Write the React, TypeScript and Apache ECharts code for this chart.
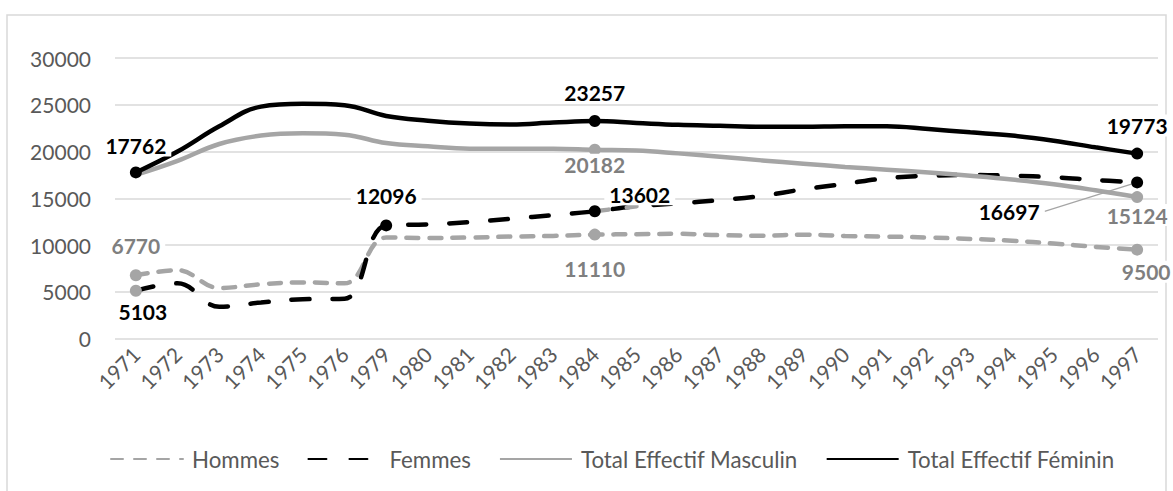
import React, { useEffect, useRef } from "react";
import * as echarts from "echarts";

const years = ["1971","1972","1973","1974","1975","1976","1979","1980","1981","1982","1983","1984","1985","1986","1987","1988","1989","1990","1991","1992","1993","1994","1995","1996","1997"];
const hommes = [6770, 7300, 5400, 5800, 6000, 5900, 10800, 10750, 10800, 10900, 10970, 11110, 11150, 11200, 11050, 11000, 11100, 10970, 10900, 10800, 10650, 10450, 10150, 9800, 9500];
const femmes = [5103, 5900, 3400, 3850, 4200, 4250, 12096, 12200, 12450, 12800, 13200, 13602, 14150, 14450, 14800, 15250, 15950, 16550, 17150, 17400, 17500, 17400, 17250, 16950, 16697];
const totalMasculin = [17500, 19000, 20800, 21700, 21950, 21800, 20900, 20550, 20300, 20300, 20300, 20182, 20100, 19800, 19450, 19050, 18700, 18350, 18050, 17750, 17400, 17000, 16500, 15850, 15124];
const totalFeminin = [17762, 20000, 22700, 24800, 25100, 24950, 23800, 23300, 23000, 22900, 23100, 23257, 23050, 22850, 22750, 22650, 22650, 22700, 22700, 22400, 22050, 21700, 21150, 20450, 19773];
const yTicks = { min: 0, max: 30000, interval: 5000 };
const seriesNames = ["Hommes", "Femmes", "Total Effectif Masculin", "Total Effectif Féminin"];

const GRAY = "#a5a5a5";
const GRAY_TEXT = "#7f7f7f";
const FONT = "Lato, 'Noto Sans', sans-serif";

type LblOpt = { pos: string; dist: number; dx?: number; dy?: number; line?: boolean; color: string; markerColor: string };

const labelsHommes: Record<number, LblOpt> = {
  0: { pos: "top", dist: 13, color: GRAY_TEXT, markerColor: GRAY },
  11: { pos: "bottom", dist: 17, color: GRAY_TEXT, markerColor: GRAY },
  24: { pos: "bottom", dist: 5, dx: 9, color: GRAY_TEXT, markerColor: GRAY },
};
const labelsFemmes: Record<number, LblOpt> = {
  0: { pos: "bottom", dist: 4, dx: 7, color: "#000", markerColor: GRAY },
  6: { pos: "top", dist: 13, color: "#000", markerColor: "#000" },
  11: { pos: "top", dist: 0, dx: 45, color: "#000", markerColor: "#000" },
  24: { pos: "top", dist: 0, dx: -128, dy: 46, line: true, color: "#000", markerColor: "#000" },
};
const labelsMasc: Record<number, LblOpt> = {
  11: { pos: "bottom", dist: -2, color: GRAY_TEXT, markerColor: GRAY },
  24: { pos: "bottom", dist: 1, color: GRAY_TEXT, markerColor: GRAY },
};
const labelsFem: Record<number, LblOpt> = {
  0: { pos: "top", dist: 10, color: "#000", markerColor: "#000" },
  11: { pos: "top", dist: 12, color: "#000", markerColor: "#000" },
  24: { pos: "top", dist: 11, color: "#000", markerColor: "#000" },
};

function buildData(values: number[], labels: Record<number, LblOpt>) {
  return values.map((v, i) => {
    const l = labels[i];
    if (!l) return { value: v, symbol: "none" };
    return {
      value: v,
      symbol: "circle",
      symbolSize: 12,
      itemStyle: { color: l.markerColor },
      label: {
        show: true,
        position: l.pos,
        distance: l.dist,
        color: l.color,
        fontWeight: "bold",
        fontSize: 21,
        fontFamily: FONT,
        lineHeight: 22,
        backgroundColor: "#ffffff",
        padding: [0, 5],
      },
      labelLine: l.line
        ? { show: true, lineStyle: { color: GRAY, width: 1.2 }, length2: 0 }
        : { show: false },
    };
  });
}

function layoutFor(labels: Record<number, LblOpt>) {
  return (p: any) => {
    const l = labels[p.dataIndex];
    if (l && (l.dx || l.dy)) return { dx: l.dx || 0, dy: l.dy || 0 };
    return {};
  };
}

export default function App() {
  const ref = useRef<HTMLDivElement>(null);
  useEffect(() => {
    if (!ref.current) return;
    const chart = echarts.init(ref.current, null, { renderer: "svg" });
    const segData = femmes.map((v, i) => (i === 11 || i === 12 ? v : null));
    chart.setOption({
      animation: false,
      backgroundColor: "#ffffff",
      textStyle: { fontFamily: FONT },
      graphic: [
        {
          type: "rect",
          silent: true,
          z: -1,
          shape: { x: 7, y: 15, width: 1159, height: 520 },
          style: { fill: "none", stroke: "#d9d9d9", lineWidth: 1.5 },
        },
      ],
      grid: { left: 115, right: 15, top: 58, height: 280.5, containLabel: false },
      legend: {
        data: seriesNames,
        left: 105,
        top: 443,
        itemWidth: 72,
        itemHeight: 14,
        itemGap: 28,
        itemStyle: { opacity: 0 },
        textStyle: { fontSize: 22.3, color: "#595959", fontFamily: FONT, padding: [0, 0, 0, 4] },
      },
      xAxis: {
        type: "category",
        data: years,
        boundaryGap: true,
        axisLine: { show: false },
        axisTick: { show: false },
        axisLabel: { rotate: 45, fontSize: 21, color: "#595959", margin: 12, interval: 0, fontFamily: FONT },
      },
      yAxis: {
        type: "value",
        min: yTicks.min,
        max: yTicks.max,
        interval: yTicks.interval,
        axisLine: { show: false },
        axisTick: { show: false },
        axisLabel: { fontSize: 21, color: "#595959", margin: 24, fontFamily: FONT, formatter: (v: number) => String(v) },
        splitLine: { lineStyle: { color: "#d9d9d9", width: 1.5 } },
      },
      series: [
        {
          name: "Hommes",
          type: "line",
          smooth: 0.4,
          symbol: "none",
          color: GRAY,
          data: buildData(hommes, labelsHommes),
          lineStyle: { width: 4.5, color: GRAY, type: [12, 11], cap: "round" },
          labelLayout: layoutFor(labelsHommes),
        },
        {
          name: "Femmes",
          type: "line",
          smooth: 0.4,
          symbol: "none",
          color: "#000",
          data: buildData(femmes, labelsFemmes),
          lineStyle: { width: 4.5, color: "#000", type: [18, 23], cap: "round" },
          labelLayout: layoutFor(labelsFemmes),
        },
        {
          name: "Femmes_segment",
          type: "line",
          smooth: 0.4,
          symbol: "none",
          color: GRAY,
          data: segData,
          lineStyle: { width: 4.5, color: GRAY, type: [14, 18], cap: "round" },
          z: 3,
        },
        {
          name: "Total Effectif Masculin",
          type: "line",
          smooth: 0.4,
          symbol: "none",
          color: GRAY,
          data: buildData(totalMasculin, labelsMasc),
          lineStyle: { width: 4.5, color: GRAY },
        },
        {
          name: "Total Effectif Féminin",
          type: "line",
          smooth: 0.4,
          symbol: "none",
          color: "#000",
          data: buildData(totalFeminin, labelsFem),
          lineStyle: { width: 4.5, color: "#000" },
        },
      ],
    });
    return () => chart.dispose();
  }, []);
  return (
    <div
      ref={ref}
      style={{ position: "absolute", left: 0, top: 0, width: 1173, height: 491 }}
    />
  );
}
